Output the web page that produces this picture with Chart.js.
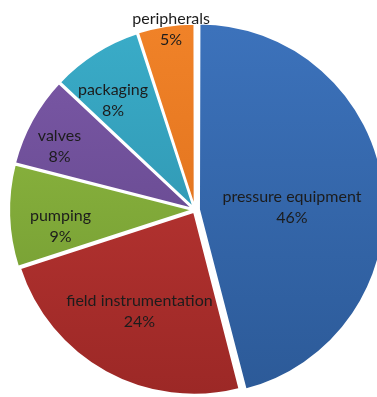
<!DOCTYPE html>
<html>
<head>
<meta charset="utf-8">
<script src="https://cdn.jsdelivr.net/npm/chart.js@4"></script>
<style>
  html, body { margin: 0; padding: 0; background: #ffffff; }
  #wrap { width: 377px; height: 397px; }
</style>
</head>
<body>
<div id="wrap"><canvas id="costs" width="377" height="397"></canvas></div>
<script>
var labels = ["pressure equipment", "field instrumentation", "pumping", "valves", "packaging", "peripherals"];
var values = [46, 24, 9, 8, 8, 5];
var topColors = ["#3c72bb", "#c43a37", "#93be42", "#7c59a8", "#3aacc8", "#f08228"];
var bottomColors = ["#2c5a98", "#9c2826", "#6e9530", "#5c4283", "#2a8aa5", "#d86a18"];
// label placement: fraction of radius, and a small turn (degrees) off the slice middle
var labelDist = [0.53, 0.63, 0.74, 0.82, 0.75, 1.0];
var labelTurn = [5.4, 0, -5, -3.4, -4.3, 1.5];

var total = values.reduce(function (a, b) { return a + b; }, 0);

// vertical light-to-dark shading for each slice
function shade(ctx) {
  var i = ctx.dataIndex;
  var area = ctx.chart.chartArea;
  if (!area) return topColors[i];
  var g = ctx.chart.ctx.createLinearGradient(0, area.top + 5, 0, area.bottom - 5);
  g.addColorStop(0, topColors[i]);
  g.addColorStop(1, bottomColors[i]);
  return g;
}

var sliceLabels = {
  id: "sliceLabels",
  afterDatasetsDraw: function (chart) {
    var c = chart.ctx;
    var meta = chart.getDatasetMeta(0);
    c.save();
    c.font = "16px Lato";
    c.fillStyle = "#1c1c1c";
    c.textAlign = "center";
    c.textBaseline = "middle";
    meta.data.forEach(function (arc, i) {
      var p = arc.getProps(["x", "y", "startAngle", "endAngle", "outerRadius"]);
      var mid = (p.startAngle + p.endAngle) / 2 + labelTurn[i] * Math.PI / 180;
      var r = p.outerRadius * labelDist[i];
      var x = p.x + Math.cos(mid) * r;
      var y = p.y + Math.sin(mid) * r;
      c.fillText(labels[i], x, y - 10);
      c.fillText(Math.round(values[i] / total * 100) + "%", x, y + 11);
    });
    c.restore();
  }
};

new Chart("costs", {
  type: "pie",
  data: {
    labels: labels,
    datasets: [{
      data: values,
      backgroundColor: shade,
      borderColor: "#ffffff",
      borderWidth: 2,
      offset: [16, 8, 8, 8, 8, 8]
    }]
  },
  options: {
    responsive: false,
    animation: false,
    radius: 183,
    layout: { padding: { left: 13, right: 0, top: 23, bottom: 0 } },
    plugins: {
      legend: { display: false },
      tooltip: { enabled: false }
    }
  },
  plugins: [sliceLabels]
});
</script>
</body>
</html>
